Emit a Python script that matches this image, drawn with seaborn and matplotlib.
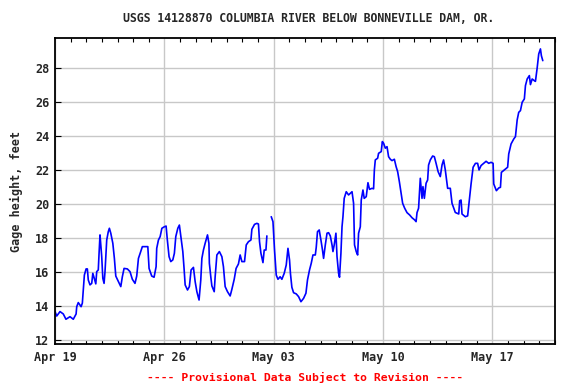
import numpy as np
import pandas as pd
import matplotlib
matplotlib.use("Agg")
import matplotlib.pyplot as plt
import matplotlib.dates as mdates
import seaborn as sns

# days since Apr 19 00:00, gage height in feet
days_a = [0.00, 0.11, 0.32, 0.53, 0.70, 0.96, 1.17, 1.35, 1.39, 1.49, 1.67, 1.75,
          1.81, 1.88, 1.99, 2.07, 2.13, 2.24, 2.35, 2.42, 2.52, 2.61, 2.67, 2.77,
          2.82, 2.88, 2.93, 2.99, 3.06, 3.14, 3.20, 3.31, 3.41, 3.48, 3.57, 3.70,
          3.80, 3.89, 4.06, 4.21, 4.31, 4.42, 4.63, 4.80, 4.95, 5.12, 5.23, 5.34,
          5.45, 5.59, 5.94, 6.02, 6.19, 6.34, 6.47, 6.51, 6.62, 6.73, 6.84, 7.00,
          7.11, 7.19, 7.30, 7.41, 7.54, 7.64, 7.73, 7.86, 7.96, 8.07, 8.18, 8.26,
          8.33, 8.48, 8.60, 8.71, 8.86, 8.97, 9.08, 9.22, 9.33, 9.40, 9.50, 9.61,
          9.76, 9.85, 9.88, 9.97, 10.04, 10.19, 10.25, 10.36, 10.52, 10.68, 10.78,
          10.89, 11.04, 11.21, 11.32, 11.47, 11.59, 11.74, 11.85, 11.96, 12.13,
          12.24, 12.38, 12.54, 12.60, 12.77, 12.92, 13.02, 13.09, 13.18, 13.31,
          13.39, 13.50, 13.56]
height_a = [13.67, 13.41, 13.67, 13.53, 13.22, 13.37, 13.22, 13.53, 13.96, 14.20,
            13.96, 14.17, 14.94, 15.82, 16.18, 16.18, 15.53, 15.24, 15.33, 15.92,
            15.60, 15.30, 16.02, 16.12, 17.10, 18.18, 17.60, 16.90, 15.63, 15.33,
            16.02, 17.88, 18.37, 18.57, 18.28, 17.69, 16.80, 15.76, 15.43, 15.14,
            15.72, 16.21, 16.18, 16.02, 15.57, 15.33, 15.76, 16.80, 17.10, 17.49,
            17.49, 16.21, 15.76, 15.69, 16.31, 17.39, 17.88, 18.08, 18.57, 18.66,
            18.70, 17.88, 16.90, 16.61, 16.71, 17.10, 18.08, 18.57, 18.76, 17.98,
            17.20, 16.21, 15.24, 14.94, 15.14, 16.12, 16.27, 15.43, 14.84, 14.35,
            15.53, 16.80, 17.29, 17.69, 18.18, 17.69, 16.51, 15.72, 15.18, 14.84,
            15.72, 17.00, 17.20, 16.90, 16.31, 15.14, 14.84, 14.59, 14.98, 15.57,
            16.21, 16.47, 17.00, 16.61, 16.61, 17.59, 17.78, 17.88, 18.51, 18.80,
            18.86, 18.82, 17.78, 17.10, 16.55, 17.29, 17.29, 18.12]

# after the short gap near May 02
days_b = [13.84, 13.95, 14.05, 14.16, 14.27, 14.41, 14.52, 14.67, 14.80, 14.91,
          15.01, 15.07, 15.16, 15.27, 15.44, 15.59, 15.74, 15.91, 16.06, 16.16,
          16.29, 16.40, 16.51, 16.66, 16.72, 16.80, 16.91, 17.02, 17.12, 17.19,
          17.30, 17.41, 17.51, 17.62, 17.73, 17.79, 17.87, 17.98, 18.05, 18.15,
          18.21, 18.30, 18.37, 18.43, 18.51, 18.64, 18.79, 19.01, 19.11, 19.17,
          19.28, 19.37, 19.43, 19.54, 19.60, 19.71, 19.79, 19.92, 20.03, 20.13,
          20.29, 20.39, 20.44, 20.50, 20.65, 20.71, 20.88, 20.95, 21.03, 21.14,
          21.25, 21.35, 21.46, 21.57, 21.72, 21.83, 21.93, 22.04, 22.15, 22.25,
          22.38, 22.53, 22.70, 22.85, 23.02, 23.11, 23.17, 23.27, 23.38, 23.49,
          23.55, 23.64, 23.75, 23.85, 23.91, 24.02, 24.17, 24.28, 24.39, 24.52,
          24.66, 24.77, 24.87, 24.98, 25.13, 25.30, 25.41, 25.52, 25.62, 25.84,
          25.90, 25.99, 26.05, 26.26, 26.41, 26.54, 26.63, 26.76, 26.91, 27.05,
          27.14, 27.27, 27.44, 27.59, 27.76, 27.91, 28.04, 28.08, 28.25, 28.40,
          28.51, 28.57, 28.83, 28.97, 29.04, 29.19, 29.36, 29.47, 29.58, 29.68,
          29.79, 29.90, 30.04, 30.11, 30.22, 30.36, 30.43, 30.54, 30.68, 30.75,
          30.86, 30.96, 31.07, 31.13, 31.22]
height_b = [19.25, 18.96, 17.29, 15.82, 15.57, 15.72, 15.57, 15.92, 16.41, 17.39,
            16.71, 15.90, 15.10, 14.78, 14.71, 14.55, 14.25, 14.45, 14.75, 15.53,
            16.12, 16.51, 17.00, 17.00, 17.45, 18.37, 18.47, 17.88, 17.29, 16.80,
            17.59, 18.28, 18.31, 18.12, 17.59, 17.20, 17.59, 18.28, 16.90, 15.92,
            15.69, 17.10, 18.66, 19.25, 20.33, 20.72, 20.53, 20.72, 20.04, 17.59,
            17.20, 17.00, 18.28, 18.66, 20.23, 20.82, 20.33, 20.43, 21.25, 20.86,
            20.92, 20.89, 22.00, 22.59, 22.69, 22.98, 23.08, 23.67, 23.57, 23.28,
            23.37, 22.78, 22.63, 22.55, 22.63, 22.20, 21.90, 21.31, 20.63, 20.04,
            19.75, 19.49, 19.35, 19.19, 19.06, 18.96, 19.49, 19.75, 21.51, 20.33,
            21.02, 20.33, 21.22, 21.41, 22.29, 22.59, 22.82, 22.78, 22.39, 21.90,
            21.61, 22.29, 22.59, 22.00, 20.92, 20.92, 20.04, 19.75, 19.50, 19.41,
            20.19, 20.23, 19.41, 19.25, 19.30, 20.39, 21.18, 22.16, 22.39, 22.39,
            22.00, 22.26, 22.39, 22.51, 22.39, 22.45, 22.39, 21.18, 20.78, 20.94,
            20.98, 21.86, 22.06, 22.16, 22.94, 23.53, 23.82, 23.96, 24.94, 25.39,
            25.49, 25.98, 26.18, 26.96, 27.35, 27.55, 27.02, 27.35, 27.25, 27.21,
            28.00, 28.82, 29.12, 28.72, 28.43]

tick_dates = ["2024-04-19", "2024-04-26", "2024-05-03", "2024-05-10", "2024-05-17"]

start = pd.Timestamp("2024-04-19")
df = pd.DataFrame({
    "time": start + pd.to_timedelta(days_a + days_b, unit="D"),
    "height": height_a + height_b,
    "segment": [0] * len(days_a) + [1] * len(days_b),
})

sns.set_theme(style="whitegrid", rc={"grid.color": "#c8c8c8", "grid.linewidth": 1.0,
                                     "axes.edgecolor": "black", "axes.linewidth": 1.3})
plt.rcParams["font.family"] = ["DejaVu Sans Mono"]
plt.rcParams["font.weight"] = "bold"

fig = plt.figure(figsize=(5.76, 3.84), dpi=100)
ax = fig.add_axes([0.0955, 0.104, 0.868, 0.797])

sns.lineplot(data=df, x="time", y="height", units="segment", estimator=None,
             color="#0000ff", linewidth=1.2, ax=ax, legend=False)

ax.set_xlim(start, start + pd.Timedelta(days=32))
ax.set_ylim(11.76, 29.76)
ax.set_yticks(np.arange(12, 29, 2))
ax.set_xticks(pd.to_datetime(tick_dates))
ax.xaxis.set_major_formatter(mdates.DateFormatter("%b %d"))
ax.xaxis.set_minor_locator(mdates.DayLocator())
ax.tick_params(axis="x", which="major", direction="in", length=0, pad=5,
               labelsize=8.5, top=True)
ax.tick_params(axis="x", which="minor", direction="in", length=3, width=0.8,
               top=True, bottom=True, color="black")
ax.tick_params(axis="y", which="major", direction="in", length=4, width=0.8,
               labelsize=8.5, left=True, color="black", pad=4)
for lab in ax.get_xticklabels() + ax.get_yticklabels():
    lab.set_fontweight("bold")
ax.grid(True, which="major")

ax.set_xlabel("")
ax.set_ylabel("Gage height, feet", fontsize=8.5, fontweight="bold", labelpad=9)
fig.text(0.535, 0.952, "USGS 14128870 COLUMBIA RIVER BELOW BONNEVILLE DAM, OR.",
         ha="center", va="center", fontsize=8.3, fontweight="bold")
fig.text(0.53, 0.018, "---- Provisional Data Subject to Revision ----",
         ha="center", va="center", fontsize=8.2, fontweight="bold", color="#ff0000")

fig.savefig("out.png", dpi=100, facecolor="white")
